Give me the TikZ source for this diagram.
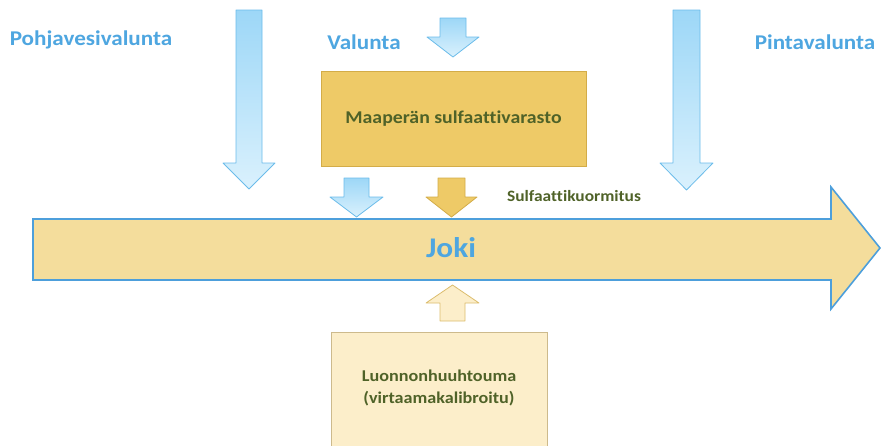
\documentclass[tikz,border=0pt]{standalone}
\usepackage{fontspec}
\setmainfont{Carlito}[Ligatures=NoCommon,FakeStretch=1.1]
\usepackage{tikz}
\usetikzlibrary{positioning,calc}
\definecolor{cSky}{HTML}{4EA6E0}
\definecolor{cSkyEdge}{HTML}{6BBCEA}
\definecolor{cSkyTop}{HTML}{9DD7F7}
\definecolor{cSkyBot}{HTML}{DAF1FD}
\definecolor{cRiver}{HTML}{F4DD9C}
\definecolor{cRiverEdge}{HTML}{4D9FDB}
\definecolor{cGold}{HTML}{EECA67}
\definecolor{cGoldEdge}{HTML}{D3AC48}
\definecolor{cCream}{HTML}{FCEECA}
\definecolor{cCreamEdge}{HTML}{CDBA8C}
\definecolor{cLeaf}{HTML}{4F6228}
\tikzset{
  title/.style={font=\bfseries\fontsize{21}{23}\selectfont,text=cSky,inner sep=0pt},
  store/.style={draw=cGoldEdge,fill=cGold,line width=0.8pt,inner sep=0pt,align=center,
    font=\bfseries\fontsize{18}{20}\selectfont,text=cLeaf},
  source/.style={draw=cCreamEdge,fill=cCream,line width=0.8pt,inner sep=0pt,align=center,
    font=\bfseries\fontsize{16.5}{22}\selectfont,text=cLeaf},
  skyarrow/.style={draw=cSkyEdge,line width=0.8pt,line join=round,top color=cSkyTop,bottom color=cSkyBot},
  goldarrow/.style={draw=cGoldEdge,line width=0.8pt,line join=round,fill=cGold},
  creamarrow/.style={draw=cGoldEdge!80,line width=0.8pt,line join=round,fill=cCream},
  river/.style={draw=cRiverEdge,line width=1.6pt,fill=cRiver},
}
% #1 style, #2 x centre, #3 shaft end, #4 head base, #5 tip, #6 half shaft, #7 half head
\newcommand{\blockarrow}[7]{%
  \draw[#1] (#2-#6,#3) -- (#2+#6,#3) -- (#2+#6,#4) -- (#2+#7,#4) -- (#2,#5)
    -- (#2-#7,#4) -- (#2-#6,#4) -- cycle;}

\begin{document}
\begin{tikzpicture}[x=1pt,y=-1pt]
  \useasboundingbox (0,0) rectangle (881,445);
  % river
  \draw[river] (33,219) -- (831,219) -- (831,187) -- (880,248) -- (831,309)
    -- (831,280) -- (33,280) -- cycle;
  \node[font=\bfseries\fontsize{28.5}{30}\selectfont,text=cSky] (joki) at (451,248) {Joki};
  % boxes
  \node[store,minimum width=265pt,minimum height=95pt] (varasto) at (453.5,118.5)
    {Maaperän sulfaattivarasto};
  \node[source,minimum width=216pt,minimum height=130pt,anchor=north] (huuhtouma) at (439,332)
    {\raisebox{36pt}{\begin{tabular}{@{}c@{}}Luonnonhuuhtouma\\(virtaamakalibroitu)\end{tabular}}};
  % flows
  \blockarrow{skyarrow}{249}{10}{163}{189}{13}{26}
  \blockarrow{skyarrow}{686.5}{10}{163}{190}{13.5}{26.5}
  \blockarrow{skyarrow}{453}{18}{37}{57}{13}{26}
  \blockarrow{skyarrow}{356.5}{178}{197}{217}{12.5}{26.5}
  \blockarrow{goldarrow}{451.5}{178}{197}{217}{13.5}{25.5}
  \blockarrow{creamarrow}{452.5}{321}{303}{285}{12.5}{26.5}
  % labels
  \node[title] (pohja) at (91,40) {Pohjavesivalunta};
  \node[title] (valunta) at (364,42) {Valunta};
  \node[title] (pinta) at (815,42) {Pintavalunta};
  \node[font=\bfseries\fontsize{15.8}{18}\selectfont,text=cLeaf] (kuorma) at (574,196)
    {Sulfaattikuormitus};
\end{tikzpicture}
\end{document}
